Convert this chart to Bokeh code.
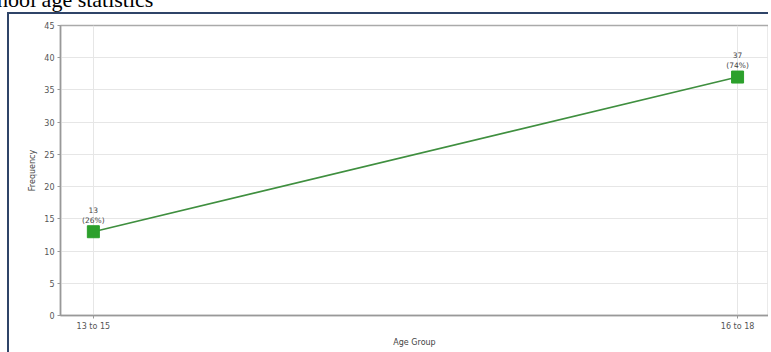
from bokeh.plotting import figure
from bokeh.models import ColumnDataSource, FixedTicker, Div, Range1d
from bokeh.layouts import column
from bokeh.embed import file_html
from bokeh.resources import INLINE
from bokeh.core.properties import value

categories = ["13 to 15", "16 to 18"]
frequencies = [13, 37]
percent_labels = ["(26%)", "(74%)"]
y_ticks = [0, 5, 10, 15, 20, 25, 30, 35, 40, 45]

xs = list(range(len(categories)))
src = ColumnDataSource(dict(
    x=xs, y=frequencies,
    lab=[f"{v}\n{p}" for v, p in zip(frequencies, percent_labels)],
))

p = figure(width=761, height=340, output_backend="svg", toolbar_location=None,
           x_range=Range1d(-0.051, 1.048), y_range=Range1d(0, 45),
           min_border_left=51, min_border_right=2, min_border_top=11, min_border_bottom=39,
           styles={"border-left": "2px solid #2f4468", "border-top": "2px solid #2f4468"})
p.margin = (0, 0, 0, 7)

p.line("x", "y", source=src, line_color="#3f8f3f", line_width=1.6)
p.scatter("x", "y", source=src, marker="square", size=12, fill_color="#2ca02c",
          line_color="#2ca02c")
p.text("x", "y", text="lab", source=src, text_align="center", text_baseline="bottom",
       y_offset=-7, text_font_size="7.5px", text_color="#444", text_line_height=1.1,
       text_font=value("DejaVu Sans"))

p.xaxis.ticker = FixedTicker(ticks=xs)
p.xaxis.major_label_overrides = {i: c for i, c in enumerate(categories)}
p.yaxis.ticker = FixedTicker(ticks=y_ticks)
p.xaxis.axis_label = "Age Group"
p.yaxis.axis_label = "Frequency"

for ax in (p.xaxis[0], p.yaxis[0]):
    ax.axis_line_color = "#999999"
    ax.axis_line_width = 1.5
    ax.major_tick_line_color = "#999999"
    ax.major_tick_out = 3
    ax.major_tick_in = 0
    ax.minor_tick_line_color = None
    ax.major_label_text_font_size = "8px"
    ax.major_label_text_color = "#555555"
    ax.major_label_text_font = "DejaVu Sans"
    ax.axis_label_text_font_size = "8px"
    ax.axis_label_text_font_style = "normal"
    ax.axis_label_text_color = "#444444"
    ax.axis_label_text_font = "DejaVu Sans"
    ax.axis_label_standoff = 4
    ax.major_label_standoff = 3

p.xgrid.grid_line_color = "#e6e6e6"
p.ygrid.grid_line_color = "#e6e6e6"
p.outline_line_color = "#aaaaaa"
p.outline_line_width = 1.5

title = Div(text='<div style="position:absolute; left:-30px; top:-21px; white-space:nowrap; '
                 'font-family:\'Liberation Serif\'; font-size:22px; color:#000;">School age statistics</div>',
            width=300, height=2, styles={"overflow": "visible", "position": "relative"})

layout = column(title, p)
open("out.html", "w").write(file_html(layout, INLINE))
